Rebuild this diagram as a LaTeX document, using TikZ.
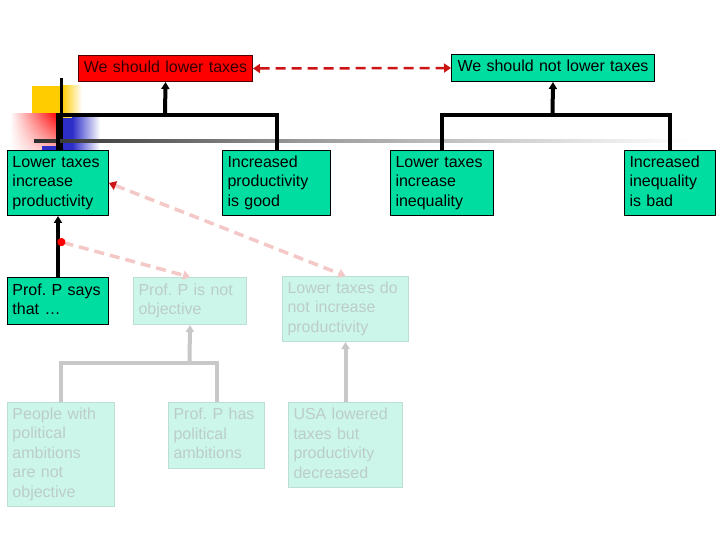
\documentclass[tikz,border=0pt]{standalone}
\usepackage{fontspec}
\setmainfont{Liberation Sans}
\usetikzlibrary{arrows.meta,shadings}
\definecolor{boxgreen}{RGB}{0,221,160}
\definecolor{palefill}{RGB}{204,246,234}
\definecolor{paleborder}{RGB}{188,222,212}
\definecolor{paletext}{RGB}{188,205,199}
\definecolor{dashred}{RGB}{205,20,20}
\definecolor{palered}{RGB}{245,200,200}
\definecolor{linegray}{RGB}{200,200,200}
\definecolor{decoyellow}{RGB}{255,204,0}
\definecolor{decoblue}{RGB}{45,45,200}
\tikzset{
  basebox/.style={anchor=north west, line width=1pt, inner xsep=5pt, inner ysep=1pt, align=left, font=\fontsize{16}{19.5}\selectfont\frenchspacing, execute at begin node=\strut, execute at end node=\strut},
  gbox/.style={basebox, draw=black, fill=boxgreen, text=black},
  rbox/.style={basebox, draw=black!70!red, fill=red, text=black!80!red},
  pbox/.style={basebox, draw=paleborder, fill=palefill, text=paletext},
  tree/.style={line width=4pt, black},
  graytree/.style={line width=4pt, linegray},
  uptip/.style={-{Triangle[width=8pt,length=7pt]}},
  reddash/.style={line width=2.5pt, dashred, dash pattern=on 10pt off 6pt},
  paledash/.style={line width=3.5pt, palered, dash pattern=on 10pt off 6pt}
}
\begin{document}
\begin{tikzpicture}[x=1pt,y=-1pt]
\useasboundingbox[fill=white] (0,0) rectangle (720,540);
% decorative template elements
\fill[decoyellow] (32,86) rectangle (62,130);
\shade[left color=decoyellow, right color=white] (62,86) rectangle (82,130);
\shade[upper left=white, upper right=red, lower left=white, lower right=red!30] (10,114) rectangle (58,150);
\fill[decoblue] (58,118) rectangle (72,160);
\shade[left color=decoblue, right color=white] (72,118) rectangle (100,160);
\fill[decoblue] (42,146) rectangle (58,152);
\fill[black] (59.5,78) rectangle (62.5,150);
\shade[left color=black!82, right color=black!40] (34,139.5) rectangle (300,142.5);
\shade[left color=black!40, right color=white] (300,139.5) rectangle (690,142.5);
% nodes
\node[rbox, minimum width=174pt, minimum height=26pt, text width=164pt, align=center] (wsl) at (78,55) {We should lower taxes};
\node[gbox, minimum width=203pt, minimum height=27pt, text width=193pt, align=center] (wsnl) at (451,54) {We should not lower taxes};
\node[gbox, minimum width=101pt, minimum height=65pt, text width=91pt] (lt) at (7,150) {Lower taxes\\increase\\productivity};
\node[gbox, minimum width=108pt, minimum height=65pt, text width=98pt] (ip) at (222,150) {Increased\\productivity\\is good};
\node[gbox, minimum width=103pt, minimum height=65pt, text width=93pt] (lti) at (390,150) {Lower taxes\\increase\\inequality};
\node[gbox, minimum width=91pt, minimum height=65pt, text width=81pt] (iib) at (624,150) {Increased\\inequality\\is bad};
\node[gbox, minimum width=101pt, minimum height=47pt, text width=91pt] (ps) at (7,277) {Prof. P says\\that \dots};
\node[pbox, minimum width=113pt, minimum height=47pt, text width=103pt] (pno) at (133,277) {Prof. P is not\\objective};
\node[pbox, minimum width=126pt, minimum height=65pt, text width=116pt] (ltdn) at (282,276) {Lower taxes do\\not increase\\productivity};
\node[pbox, minimum width=107pt, minimum height=104pt, text width=97pt] (ppl) at (7,402) {People with\\political\\ambitions\\are not\\objective};
\node[pbox, minimum width=96pt, minimum height=66pt, text width=86pt] (pph) at (168,402) {Prof. P has\\political\\ambitions};
\node[pbox, minimum width=114pt, minimum height=85pt, text width=104pt] (usa) at (288,402) {USA lowered\\taxes but\\productivity\\decreased};
% trees
\coordinate (j1) at (165,115);
\coordinate (j2) at (552.5,115);
\coordinate (j3) at (189.5,363);
\coordinate (m) at (57.5,241);
\draw[tree] (lt.north) |- (j1);
\draw[tree] (ip.north) |- (j1);
\draw[tree, uptip] (j1) -- (wsl.south);
\draw[tree] (lti.north) |- (j2);
\draw[tree] (iib.north) |- (j2);
\draw[tree, uptip] (j2) -- (wsnl.south);
\draw[tree, uptip] (ps.north) -- (lt.south);
\draw[graytree] (ppl.north) |- (j3);
\draw[graytree] (pph.north) |- (j3);
\draw[graytree, uptip] (j3) -- (pno.south);
\draw[graytree, uptip] (usa.north) -- (ltdn.south);
% attack relations
\draw[reddash, {Triangle[width=9pt,length=7pt]}-{Triangle[width=9pt,length=7pt]}] (wsl.east) -- (wsnl.west);
\draw[paledash, {Triangle[width=9pt,length=7pt,color=dashred]}-{Triangle[width=9pt,length=7pt]}] (lt.east) -- (ltdn.north);
\draw[paledash, {Circle[length=8pt,color=red]}-{Triangle[width=9pt,length=7pt]}] (m) -- (pno.north);
\end{tikzpicture}
\end{document}
